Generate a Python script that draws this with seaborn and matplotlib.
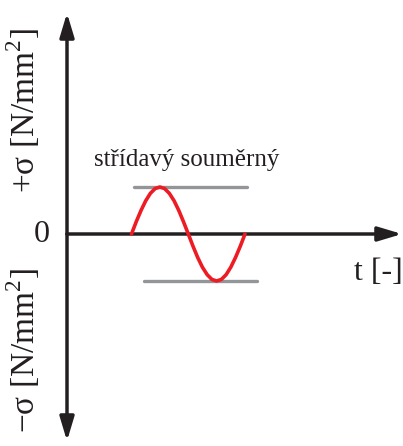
import numpy as np
import pandas as pd
import matplotlib
matplotlib.use("Agg")
import matplotlib.pyplot as plt
import seaborn as sns

# Wave: t in px from origin, sigma in px (amplitude ~47)
wave_t = [64.5, 69.2, 74.0, 78.7, 83.4, 88.1, 92.9, 97.6, 102.3, 107.1, 111.8, 116.5,
          121.3, 126.0, 130.7, 135.4, 140.2, 144.9, 149.6, 154.4, 159.1, 163.8, 168.5,
          173.3, 178.0]
wave_sigma = [0, 12.2, 23.5, 33.2, 40.7, 45.4, 47, 45.4, 40.7, 33.2, 23.5, 12.2,
              0, -12.2, -23.5, -33.2, -40.7, -45.4, -47, -45.4, -40.7, -33.2, -23.5,
              -12.2, 0]

# gray max / min guide lines
max_t = [67, 180]
max_sigma = [47, 47]
min_t = [77, 190]
min_sigma = [-47, -47]

label_top = "+σ [N/mm$^2$]"
label_bottom = "−σ [N/mm$^2$]"
label_t = "t [-]"
label_zero = "0"
caption = "střídavý souměrný"

sns.set_style("white")
plt.rcParams['font.family'] = ['Liberation Serif', 'DejaVu Serif']
plt.rcParams['mathtext.fontset'] = 'custom'
plt.rcParams['mathtext.rm'] = 'Liberation Serif'

fig = plt.figure(figsize=(4.03, 4.46), dpi=100)
ax = fig.add_axes([0, 0, 1, 1])
ax.set_xlim(-67, 336)
ax.set_ylim(-212, 234)
ax.axis('off')

black = '#231f20'
aprops = dict(arrowstyle='-|>,head_length=1.0,head_width=0.3', lw=2.5,
              color=black, mutation_scale=14.4, shrinkA=0, shrinkB=0)

# axes with arrows
ax.annotate('', xy=(0, 221), xytext=(0, 0), arrowprops=aprops)
ax.annotate('', xy=(0, -207), xytext=(0, 0), arrowprops=aprops)
ax.annotate('', xy=(335, 0), xytext=(0, 0), arrowprops=aprops)

gray = '#939598'
sns.lineplot(x=max_t, y=max_sigma, ax=ax, color=gray, lw=2.4, sort=False)
sns.lineplot(x=min_t, y=min_sigma, ax=ax, color=gray, lw=2.4, sort=False)

wave = pd.DataFrame({'t': wave_t, 'sigma': wave_sigma})
sns.lineplot(data=wave, x='t', y='sigma', ax=ax, color='#ed1c24', lw=2.6,
             sort=False, zorder=5)

ax.text(120, 74, caption, fontsize=18, ha='center', va='center', color=black)
ax.text(-25, 0, label_zero, fontsize=23, ha='center', va='center', color=black)
ax.text(311, -38, label_t, fontsize=23, ha='center', va='center', color=black)
ax.text(-44, 124, label_top, fontsize=24, ha='center', va='center',
        rotation=90, color=black)
ax.text(-44, -116, label_bottom, fontsize=24, ha='center', va='center',
        rotation=90, color=black)

fig.savefig('out.png', dpi=100)
